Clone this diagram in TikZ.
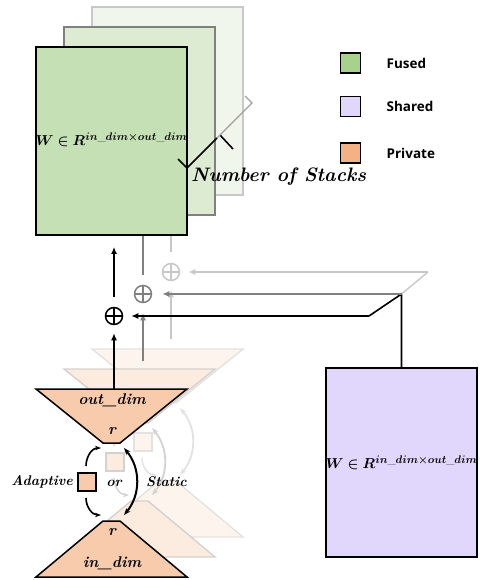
\documentclass[tikz,border=0pt]{standalone}
\usepackage{amsmath,amssymb,bm}
\usepackage{fontspec}
\newfontfamily\legendfont{Open Sans}
\usetikzlibrary{positioning,arrows.meta}

\definecolor{fusedgreen}{HTML}{C5E0B4}
\definecolor{fusedmid}{HTML}{DDEBD3}
\definecolor{fusedback}{HTML}{F1F6ED}
\definecolor{keygreen}{HTML}{A9D18E}
\definecolor{sharedlilac}{HTML}{E1D6FB}
\definecolor{privpeach}{HTML}{F8CBAD}
\definecolor{privmid}{HTML}{FCEBDF}
\definecolor{privback}{HTML}{FDF4EE}
\definecolor{keypeach}{HTML}{F4B183}
\definecolor{midgray}{HTML}{808080}
\definecolor{palegray}{HTML}{C8C8C8}
\definecolor{fadegray}{HTML}{D4D2D0}
\definecolor{fadergray}{HTML}{E4E2E0}

\begin{document}
\begin{tikzpicture}[x=1pt,y=-1pt,
    mat/.style={draw,line width=1.8pt,minimum width=151pt,minimum height=188pt,inner sep=0pt},
    key/.style={draw,line width=1.2pt,minimum width=20pt,minimum height=20pt,inner sep=0pt},
    keytext/.style={font=\legendfont\fontsize{13.5}{16}\selectfont\bfseries},
    addnode/.style={circle,draw,line width=1.5pt,minimum size=17pt,inner sep=0pt,
      path picture={\draw[line width=1.3pt] (path picture bounding box.north) -- (path picture bounding box.south)
        (path picture bounding box.west) -- (path picture bounding box.east);}},
    flow/.style={-{Latex[length=7pt,width=6pt]},line width=1.5pt},
    lbl/.style={font=\fontsize{15.5}{17}\selectfont\bfseries\itshape,inner sep=0pt},
    small/.style={font=\fontsize{14}{16}\selectfont\bfseries\itshape,inner sep=0pt}]
  \useasboundingbox (0,0) rectangle (479,580);

  \node[addnode] (addA) at (114,316) {};
  \node[addnode,midgray] (addB) at (143,294) {};
  \node[addnode,palegray] (addC) at (171,272) {};

  \node[mat,draw=palegray,line width=1.4pt,fill=fusedback] (stackC) at (167.5,101) {};
  \draw[flow,palegray,shorten <=11pt,shorten >=11pt] (addC) -- (addC |- stackC.south);
  \node[mat,draw=midgray,line width=1.5pt,fill=fusedmid] (stackB) at (139.5,121) {};
  \draw[flow,midgray,shorten <=10pt,shorten >=11pt] (addB) -- (addB |- stackB.south);
  \node[mat,fill=fusedgreen] (stackA) at (111.5,141)
    {\raisebox{4pt}{\fontsize{15.5}{17}\selectfont$\bm{W \in R^{in\_dim \times out\_dim}}$}};
  \draw[flow,shorten <=10pt,shorten >=11pt] (addA) -- (addA |- stackA.south);

  \coordinate (dimA) at (187,168);
  \coordinate (dimB) at (217,138);
  \coordinate (dimC) at (252,103);
  \draw[line width=1.6pt] (178,159) -- (dimA) -- (dimB);
  \draw[line width=1.6pt] (220,135) -- (233,149);
  \draw[line width=1.3pt,palegray!80!black] (dimB) -- (dimC) -- (245,96);
  \node[lbl,font=\fontsize{19.5}{21}\selectfont\bfseries\itshape,anchor=west] (stacks) at (191,177) {Number of Stacks};

  \node[key,fill=keygreen] (keyF) at (350.5,63) {};
  \node[key,fill=sharedlilac] (keyS) at (350.5,106.5) {};
  \node[key,fill=keypeach] (keyP) at (350.5,153) {};
  \node[keytext,right=22pt of keyF] {Fused};
  \node[keytext,right=22pt of keyS] {Shared};
  \node[keytext,right=22pt of keyP] {Private};

  \foreach \dx/\dy/\fc/\dc in {56/-40/privback/fadergray,28/-20/privmid/fadegray} {
    \begin{scope}[shift={(\dx,\dy)},color=\dc,line width=1.4pt]
      \draw[fill=\fc] (36,389) -- (187,389) -- (120,443) -- (103,443) -- cycle;
      \draw[fill=\fc] (103,521) -- (120,521) -- (187,577) -- (36,577) -- cycle;
      \draw[fill=\fc] (78,473) rectangle (96,491);
      \draw[-{Stealth[length=6pt]}] (86,466) to[out=90,in=180] (101,448);
      \draw[-{Stealth[length=6pt]}] (86,498) to[out=-90,in=180] (101,515);
      \draw[{Stealth[length=7pt]}-{Stealth[length=7pt]},line width=1.8pt] (124,448) to[out=-50,in=50] (124,515);
    \end{scope}
  }

  \draw[line width=1.5pt,fill=privpeach] (36,389) coordinate (outL) -- (187,389) -- (120,443) -- (103,443) -- cycle;
  \draw[line width=1.5pt,fill=privpeach] (103,521) -- (120,521) -- (187,577) -- (36,577) coordinate (inL) -- cycle;
  \node[lbl] (outdim) at (112,400) {out\_dim};
  \node[lbl] (rtop) at (112,431) {r};
  \node[lbl] (rbot) at (112,532) {r};
  \node[lbl] (indim) at (112,563) {in\_dim};
  \node[draw,line width=1.4pt,fill=privpeach,minimum size=18pt,inner sep=0pt] (gate) at (87,482) {};
  \node[small,anchor=east] (adaptive) at (73,482) {Adaptive};
  \node[small] (or) at (114,483) {or};
  \node[small,anchor=west] (static) at (146,482) {Static};
  \draw[-{Stealth[length=6pt]},line width=1.6pt] (86,466) to[out=90,in=180] (101,448);
  \draw[-{Stealth[length=6pt]},line width=1.6pt] (86,498) to[out=-90,in=180] (101,515);
  \draw[{Stealth[length=7pt]}-{Stealth[length=7pt]},line width=2pt] (124,448) to[out=-50,in=50] (124,515);

  \coordinate (outtopA) at (114,389);
  \coordinate (outtopB) at (143,369);
  \coordinate (outtopC) at (171,349);
  \draw[flow,shorten >=8pt] (outtopA) -- (addA);
  \draw[flow,midgray,shorten <=8pt,shorten >=10pt] (outtopB) -- (addB);
  \draw[flow,palegray,shorten <=10pt,shorten >=9pt] (outtopC) -- (addC);

  \node[mat,fill=sharedlilac,minimum height=189pt] (shared) at (401.5,462.5)
    {\fontsize{15.5}{17}\selectfont$\bm{W \in R^{in\_dim \times out\_dim}}$};
  \coordinate (jA) at (369,316);
  \coordinate (jB) at (shared.north |- addB);
  \coordinate (jC) at (428,272);
  \draw[line width=1.6pt] (shared.north) -- (jB) -- (jA);
  \draw[line width=1.4pt,palegray] (jB) -- (jC);
  \draw[flow,shorten >=8pt] (jA) -- (addA);
  \draw[flow,midgray,shorten >=10pt] (jB) -- (addB);
  \draw[flow,palegray,shorten >=8pt] (jC) -- (addC);
\end{tikzpicture}
\end{document}
